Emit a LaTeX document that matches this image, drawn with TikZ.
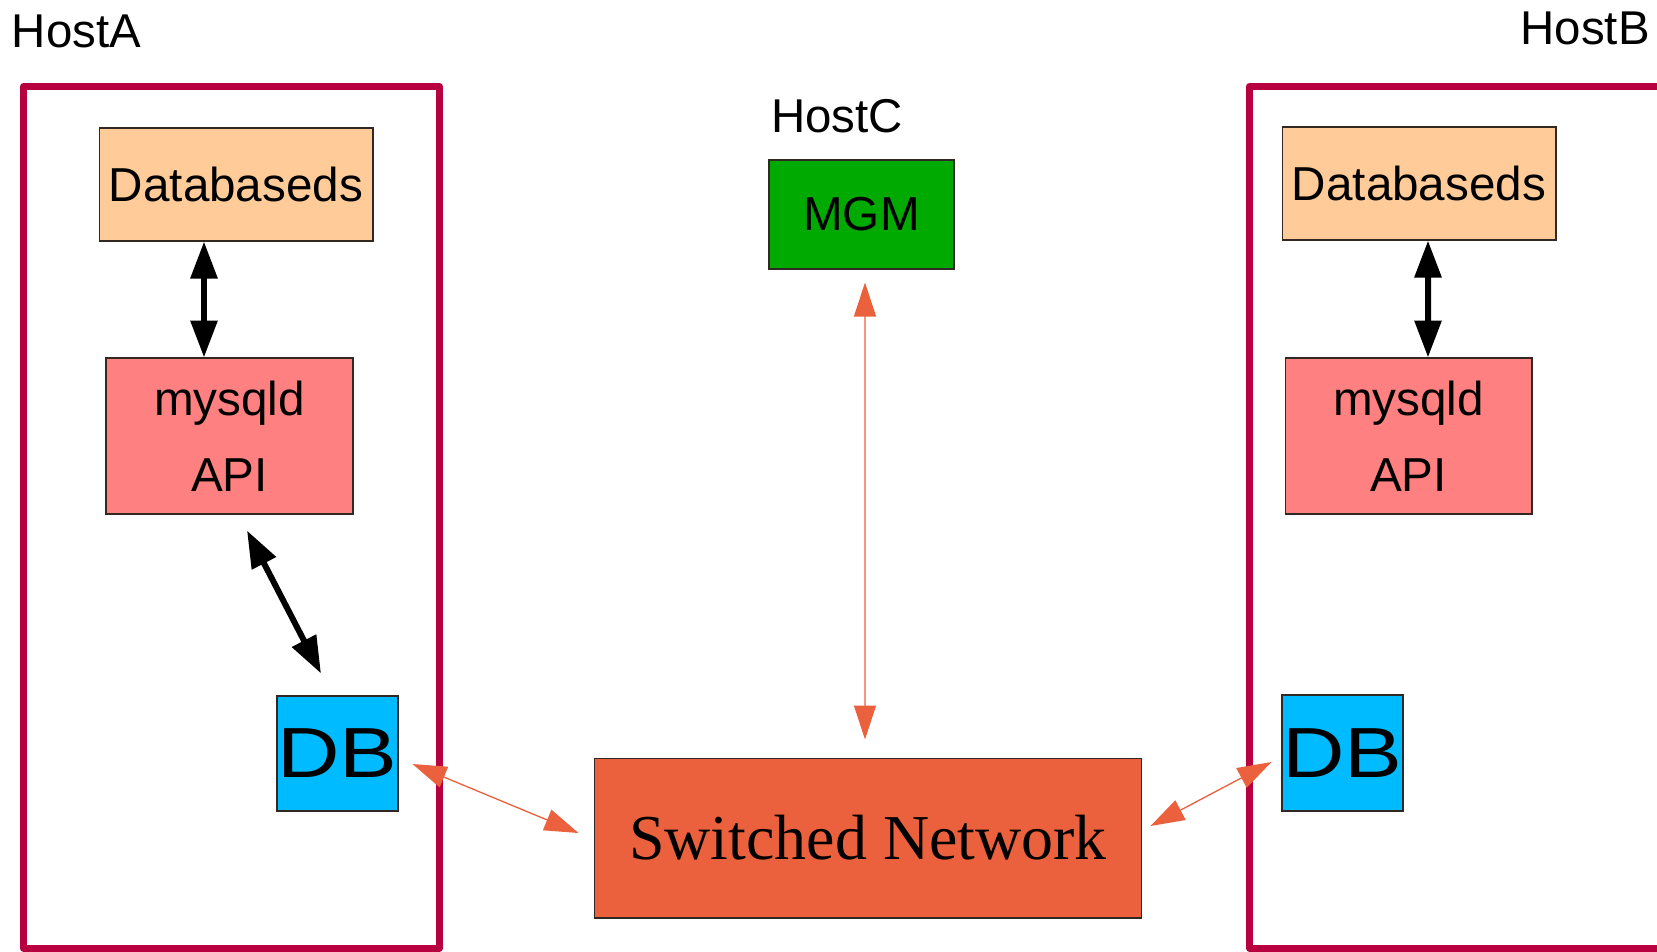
\documentclass[tikz,border=0pt]{standalone}
\usepackage{fontspec}
\setmainfont{Liberation Sans}
\newfontfamily\netfont{Liberation Serif}
\usepackage{graphicx}
\usetikzlibrary{arrows.meta,calc}
\definecolor{hostframe}{RGB}{184,0,64}
\definecolor{boxline}{RGB}{50,40,35}
\definecolor{dsfill}{RGB}{255,204,153}
\definecolor{apifill}{RGB}{255,128,128}
\definecolor{dbfill}{RGB}{0,187,255}
\definecolor{mgmfill}{RGB}{0,170,0}
\definecolor{netfill}{RGB}{235,97,61}
\definecolor{linkorange}{RGB}{235,97,61}

\begin{document}
\begin{tikzpicture}[x=0.02cm,y=0.02cm]
    \tikzstyle{every node}+=[inner sep=0pt]
    \tikzstyle{box}=[draw=boxline, line width=0.6pt, font=\fontsize{27.1}{32}\selectfont]
    \tikzstyle{hostlabel}=[font=\fontsize{27}{32}\selectfont]
    \tikzstyle{frame}=[draw=hostframe, line width=4pt, line join=round]
    \tikzstyle{localarrow}=[black, line width=3.4pt, {Triangle[length=0.74cm,width=0.52cm]}-{Triangle[length=0.74cm,width=0.52cm]}]
    \tikzstyle{netarrow}=[linkorange, line width=0.75pt, {Triangle[length=0.68cm,width=0.44cm]}-{Triangle[length=0.68cm,width=0.44cm]}]
    \useasboundingbox (0,0) rectangle (1657,-951);
    \clip (0,0) rectangle (1657,-951);
    % host frames and labels
    \draw [frame] (23.5,-86.5) rectangle (439.5,-948);
    \draw [frame] (1249.5,-86.5) rectangle (1720,-948);
    \node [hostlabel, anchor=base west] (hostA) at (11.5,-47) {HostA};
    \node [hostlabel, anchor=base east] (hostB) at (1650,-44) {HostB};
    \node [hostlabel, anchor=base west] (hostC) at (771,-132) {HostC};
    % HostA
    \node [box, fill=dsfill, minimum width=5.48cm, minimum height=2.26cm] (dsA) at (236,-184.5) {Databaseds};
    \node [box, fill=apifill, minimum width=4.94cm, minimum height=3.12cm, align=center, font=\fontsize{27.1}{43.5}\selectfont] (apiA) at (229.5,-436) {mysqld\\API};
    \node [box, fill=dbfill, minimum width=2.42cm, minimum height=2.3cm, font=\fontsize{40.4}{48}\selectfont] (dbA) at (337.5,-753.5) {\scalebox{1.22}[1]{DB}};
    % HostB
    \node [box, fill=dsfill, minimum width=5.48cm, minimum height=2.26cm] (dsB) at (1419,-183.5) {Databaseds};
    \node [box, fill=apifill, minimum width=4.94cm, minimum height=3.12cm, align=center, font=\fontsize{27.1}{43.5}\selectfont] (apiB) at (1408.5,-436) {mysqld\\API};
    \node [box, fill=dbfill, minimum width=2.42cm, minimum height=2.32cm, font=\fontsize{40.4}{48}\selectfont] (dbB) at (1342.5,-753) {\scalebox{1.22}[1]{DB}};
    % HostC and network
    \node [box, fill=mgmfill, minimum width=3.7cm, minimum height=2.18cm] (mgm) at (861.5,-214.5) {MGM};
    \node [box, fill=netfill, minimum width=10.96cm, minimum height=3.2cm, font=\netfont\fontsize{36.4}{44}\selectfont] (net) at (868,-838) {Switched Network};
    % local links
    \draw [localarrow] ($(dsA.south)+(-32,0)$) -- ($(apiA.north)+(-25.5,0)$);
    \draw [localarrow] ($(apiA.south)+(17.5,-16)$) -- ($(dbA.north)+(-16.5,22)$);
    \draw [localarrow] ($(dsB.south)+(9,0)$) -- ($(apiB.north)+(19.5,0)$);
    % network links
    \draw [netarrow] ($(mgm.south)+(3.5,-13)$) -- ($(net.north)+(-3,18)$);
    \draw [netarrow] ($(dbA.east)+(14,-10.5)$) -- ($(net.west)+(-15,5)$);
    \draw [netarrow] ($(net.east)+(8,12)$) -- ($(dbB.west)+(-10,-9)$);
\end{tikzpicture}
\end{document}
